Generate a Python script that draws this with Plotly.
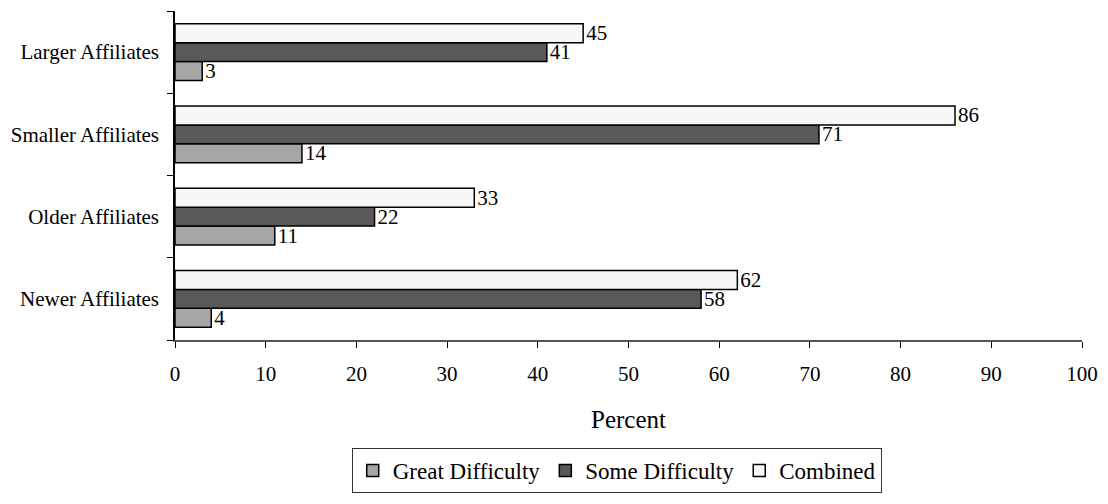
import plotly.graph_objects as go

# Affiliate groups, listed bottom-to-top as they appear on the axis
groups = ["Newer Affiliates", "Older Affiliates", "Smaller Affiliates", "Larger Affiliates"]

great_difficulty = [4, 11, 14, 3]
some_difficulty = [58, 22, 71, 41]
combined = [62, 33, 86, 45]

x_ticks = [0, 10, 20, 30, 40, 50, 60, 70, 80, 90, 100]

serif = "Liberation Serif, Times New Roman, serif"

series = [
    ("Great Difficulty", great_difficulty, "#a6a6a6"),
    ("Some Difficulty", some_difficulty, "#595959"),
    ("Combined", combined, "#f7f7f7"),
]

fig = go.Figure()
for name, values, color in series:
    fig.add_trace(go.Bar(
        name=name,
        y=groups,
        x=values,
        orientation="h",
        marker=dict(color=color, line=dict(color="black", width=1.5)),
        text=[str(v) for v in values],
        textposition="outside",
        constraintext="none",
        textfont=dict(family=serif, size=21, color="black"),
        cliponaxis=False,
    ))

fig.update_layout(
    width=1108,
    height=504,
    margin=dict(l=175, r=26, t=11, b=164),
    paper_bgcolor="white",
    plot_bgcolor="white",
    barmode="group",
    bargap=0.31,
    bargroupgap=0,
    font=dict(family=serif, size=21, color="black"),
    showlegend=True,
    legend=dict(
        orientation="h",
        traceorder="normal",
        x=0.487,
        y=-0.465,
        xanchor="center",
        yanchor="bottom",
        bordercolor="#333333",
        borderwidth=1,
        font=dict(family=serif, size=23, color="black"),
        itemwidth=30,
        tracegroupgap=0,
    ),
    xaxis=dict(
        range=[0, 100],
        tickvals=x_ticks,
        ticktext=[str(t) for t in x_ticks],
        ticks="outside",
        ticklen=6,
        tickcolor="black",
        ticklabelstandoff=8,
        showline=True,
        linecolor="#555555",
        linewidth=1.5,
        showgrid=False,
        zeroline=False,
        tickfont=dict(family=serif, size=21),
        title=dict(text="Percent", font=dict(family=serif, size=25), standoff=26),
        automargin=False,
    ),
    yaxis=dict(
        categoryorder="array",
        categoryarray=groups,
        ticks="outside",
        tickson="boundaries",
        ticklen=6,
        tickcolor="black",
        ticklabelstandoff=10,
        showline=True,
        linecolor="black",
        linewidth=1.5,
        showgrid=False,
        zeroline=False,
        tickfont=dict(family=serif, size=21),
        automargin=False,
    ),
)

fig.write_html("out.html")
